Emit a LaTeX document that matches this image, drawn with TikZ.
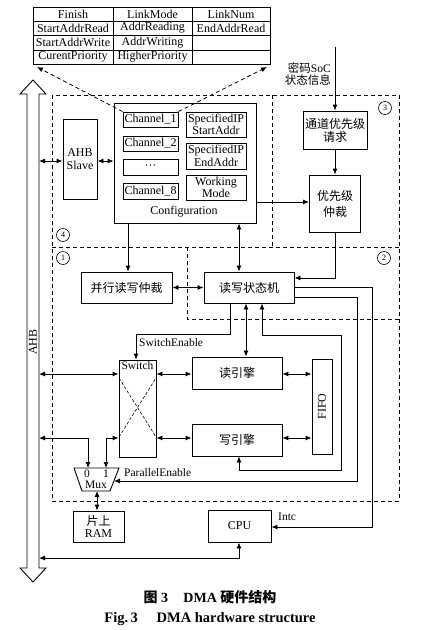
\documentclass[tikz,border=0pt]{standalone}
\usepackage{fontspec}
\setmainfont{Liberation Serif}
\newfontfamily\cjk{Noto Sans CJK SC}
\usetikzlibrary{arrows.meta,calc}
\tikzset{
 ln/.style={line width=0.9pt},
 bx/.style={draw,ln,inner sep=0pt,align=center,font=\fontsize{12}{12.5}\selectfont},
 cbx/.style={bx,font=\fontsize{12}{13}\selectfont\cjk},
 dsh/.style={line width=0.8pt,dash pattern=on 4pt off 3pt},
 arr/.style={ln,-{Latex[length=6pt,width=5pt]}},
 darr/.style={ln,{Latex[length=6pt,width=5pt]}-{Latex[length=6pt,width=5pt]}},
 num/.style={draw,circle,line width=0.6pt,minimum size=13pt,inner sep=0pt,font=\fontsize{8}{8}\selectfont},
 lbl/.style={inner sep=0pt,font=\fontsize{11.5}{12}\selectfont},
 cell/.style={inner sep=0pt,font=\fontsize{12}{12}\selectfont}
}
\begin{document}
\begin{tikzpicture}[x=1pt,y=-1pt]
\useasboundingbox (0,0) rectangle (428,630);
% table
\draw[ln] (33,7) rectangle (270,64);
\foreach \yy in {21,35,50} \draw[ln] (33,\yy) -- (270,\yy);
\foreach \xx in {113,192} \draw[ln] (\xx,7) -- (\xx,64);
\node[cell] (t11) at (73,14) {Finish};
\node[cell] (t12) at (152.5,14) {LinkMode};
\node[cell] (t13) at (231,14) {LinkNum};
\node[cell] (t21) at (73,28) {StartAddrRead};
\node[cell] (t22) at (152.5,28) {AddrReading};
\node[cell] (t23) at (231,28) {EndAddrRead};
\node[cell] (t31) at (73,42.5) {StartAddrWrite};
\node[cell] (t32) at (152.5,42.5) {AddrWriting};
\node[cell] (t41) at (73,57) {CurentPriority};
\node[cell] (t42) at (152.5,57) {HigherPriority};
\coordinate (tl) at (37,67);
\coordinate (tr) at (267,67);
% AHB bus
\draw[ln,fill=white] (33,80) -- (46,94) -- (39,94) -- (39,568) -- (46,568) -- (33,582) -- (20,568) -- (27,568) -- (27,94) -- (20,94) -- cycle;
\node[rotate=90,inner sep=0pt,font=\fontsize{12}{12}\selectfont] (ahb) at (33,342) {AHB};
\coordinate (b1) at (39,161);
\coordinate (b2) at (39,374);
\coordinate (b3) at (39,438);
\coordinate (b4) at (39,558);
% dashed regions
\draw[dsh] (52,95) rectangle (399,501);
\draw[dsh] (52,247) -- (399,247);
\draw[dsh] (272,95) -- (272,247);
\draw[dsh] (187,247) -- (187,319) -- (399,319);
\node[num] (n4) at (63,235) {4};
\node[num] (n3) at (385,108) {3};
\node[num] (n1) at (63,258) {1};
\node[num] (n2) at (384,258) {2};
% boxes
\node[bx,minimum width=34pt,minimum height=80pt] (slave) at (80,159) {AHB\\Slave};
\node[bx,minimum width=142pt,minimum height=120pt] (cfg) at (185,163) {};
\node[lbl,font=\fontsize{12}{12}\selectfont] (cfgl) at (184,212) {Configuration};
\node[bx,minimum width=55pt,minimum height=15pt] (ch1) at (150.5,119.5) {Channel\_1};
\node[bx,minimum width=55pt,minimum height=15pt] (ch2) at (150.5,143.5) {Channel\_2};
\node[bx,minimum width=55pt,minimum height=16pt] (chd) at (150.5,167) {···};
\node[bx,minimum width=55pt,minimum height=16pt] (ch8) at (150.5,191) {Channel\_8};
\node[bx,minimum width=60pt,minimum height=25pt] (sps) at (216,124.5) {SpecifiedIP\\StartAddr};
\node[bx,minimum width=60pt,minimum height=26pt] (spe) at (216,156) {SpecifiedIP\\EndAddr};
\node[bx,minimum width=60pt,minimum height=25pt] (wm) at (216,187.5) {Working\\Mode};
\node[cbx,minimum width=64pt,minimum height=38pt] (req) at (335,130) {通道优先级\\请求};
\node[cbx,minimum width=51pt,minimum height=57pt] (prio) at (335,203.5) {优先级\\[3pt]仲裁};
\node[cbx,minimum width=91pt,minimum height=31pt] (par) at (126.5,287.5) {并行读写仲裁};
\node[cbx,minimum width=90pt,minimum height=31pt] (rw) at (249,287.5) {读写状态机};
\node[bx,minimum width=37pt,minimum height=97pt] (sw) at (137.5,408.5) {};
\node[lbl] (swl) at (137.5,366) {Switch};
\node[cbx,minimum width=90pt,minimum height=32pt] (rd) at (237,373) {读引擎};
\node[cbx,minimum width=90pt,minimum height=32pt] (wr) at (237,440) {写引擎};
\node[bx,minimum width=20pt,minimum height=95pt] (fifo) at (322,406.5) {};
\node[lbl,rotate=90,font=\fontsize{12}{12}\selectfont] (fifol) at (322,406.5) {FIFO};
\draw[ln] (74,468) -- (119,468) -- (110,491) -- (82,491) -- cycle;
\coordinate (mux0) at (88,468);
\coordinate (mux1) at (106,468);
\coordinate (muxb) at (97,491);
\coordinate (muxr) at (114,481);
\node[lbl] (m0l) at (87,474) {0};
\node[lbl] (m1l) at (106,474) {1};
\node[lbl] (muxl) at (96,485) {Mux};
\node[bx,minimum width=51pt,minimum height=31pt] (ram) at (98.5,526.5) {{\cjk 片上}\\RAM};
\node[bx,minimum width=63pt,minimum height=32pt] (cpu) at (239.5,526) {CPU};
% table links
\draw[dsh,-{Latex[length=6pt,width=5pt]}] (ch1.north west) -- (tl);
\draw[dsh,-{Latex[length=6pt,width=5pt]}] (ch1.north east) -- (tr);
% connectors
\coordinate (y161) at (0,161);
\coordinate (x128) at (128,0);
\coordinate (x239) at (239,0);
\coordinate (y202) at (0,202);
\coordinate (y278) at (0,278);
\coordinate (y287) at (0,287);
\coordinate (y297) at (0,297);
\coordinate (y374) at (0,374);
\coordinate (y438) at (0,438);
\coordinate (x246) at (246,0);
\draw[darr] (b1) -- (b1 -| slave.west);
\draw[darr] (y161 -| slave.east) -- (y161 -| cfg.west);
\draw[arr] (x128 |- cfg.south) -- (x128 |- par.north);
\draw[darr] (x239 |- cfg.south) -- (x239 |- rw.north);
\draw[arr] (y202 -| cfg.east) -- (y202 -| prio.west);
\coordinate (soc) at (335,47);
\draw[arr] (soc) -- (req.north);
\node[lbl,align=right,anchor=east] (socl) at (331,74) {{\cjk 密码}SoC\\{\cjk 状态信息}};
\draw[arr] (req.south) -- (prio.north);
\draw[arr] (prio.south) |- (y278 -| rw.east);
\draw[darr] (par.east) -- (rw.west);
\coordinate (k1) at (372,527);
\draw[arr] (y287 -| rw.east) -| (k1) -- (k1 -| cpu.east);
\node[lbl,anchor=west] (intc) at (278,517) {Intc};
\coordinate (k2) at (357,481);
\draw[arr] (y297 -| rw.east) -| (k2) -- (muxr);
\node[lbl,anchor=west] (pel) at (124,473) {ParallelEnable};
\coordinate (s1) at (230,334);
\coordinate (s2) at (136,334);
\draw[arr] (s1 |- rw.south) -- (s1) -- (s2) -- (s2 |- sw.north);
\node[lbl,anchor=west] (sel) at (139,343) {SwitchEnable};
\draw[darr] (x246 |- rw.south) -- (x246 |- rd.north);
\coordinate (l1) at (262,335);
\coordinate (l2) at (341,335);
\coordinate (l3) at (341,470);
\coordinate (l4) at (239,470);
\draw[darr] (l1 |- rw.south) -- (l1) -- (l2) -- (l3) -- (l4) -- (l4 |- wr.south);
\draw[darr] (b2) -- (b2 -| sw.west);
\draw[darr] (y374 -| sw.east) -- (y374 -| rd.west);
\draw[darr] (y438 -| sw.east) -- (y438 -| wr.west);
\draw[darr] (y374 -| rd.east) -- (y374 -| fifo.west);
\draw[darr] (y438 -| wr.east) -- (y438 -| fifo.west);
\coordinate (m0) at (88,438);
\coordinate (m1) at (106,438);
\draw[darr] (b3) -- (m0) -- (mux0);
\draw[darr] (y438 -| sw.west) -- (m1) -- (mux1);
\draw[darr] (muxb) -- (muxb |- ram.north);
\coordinate (c4) at (239,558);
\draw[darr] (c4 |- cpu.south) -- (c4) -- (b4);
% switch cross
\draw[dash pattern=on 3pt off 2pt,line width=0.6pt] (119,378) -- (156,437);
\draw[dash pattern=on 3pt off 2pt,line width=0.6pt] (119,437) -- (156,378);
% caption
\node[inner sep=0pt,font=\fontsize{14}{14}\selectfont\bfseries] (cap1) at (210,597) {{\cjk\bfseries 图} 3\hspace{1.1em}DMA {\cjk\bfseries 硬件结构}};
\node[inner sep=0pt,font=\fontsize{14.5}{14.5}\selectfont\bfseries] (cap2) at (210,619) {Fig.\,3\hspace{1.3em}DMA hardware structure};
\end{tikzpicture}
\end{document}
